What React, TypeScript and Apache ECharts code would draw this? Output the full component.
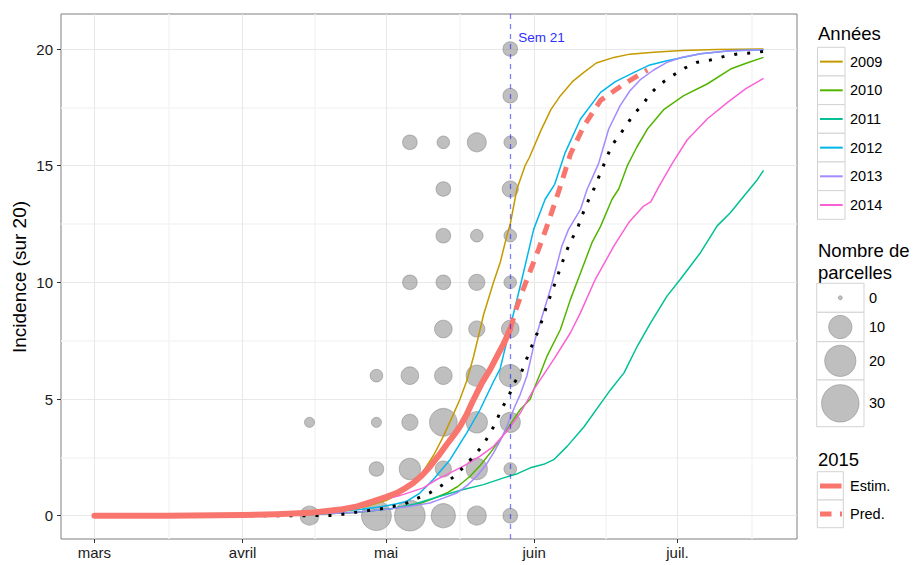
import React, { useEffect, useRef } from 'react';
import * as echarts from 'echarts';

// x values are days counted from 1 March (mars = 0)
const monthStarts = [0, 31, 61, 92, 122];
const monthLabels = ['mars', 'avril', 'mai', 'juin', 'juil.'];
const monthMids = [15.5, 46, 76.5, 107, 137.5];
const yMajor = [0, 5, 10, 15, 20];
const yMinor = [2.5, 7.5, 12.5, 17.5];

const yearNames = ['2009', '2010', '2011', '2012', '2013', '2014'];
const yearColors = ['#C49A00', '#53B400', '#00C094', '#00B6EB', '#A58AFF', '#FB61D7'];

const inc2009: [number, number][] = [[0,0],[31,0.02],[45,0.1],[52,0.2],[57,0.4],[61,0.65],[64,0.95],[66.5,1.3],[68.5,1.8],[71,2.6],[73,3.4],[75,4.3],[76.5,5.0],[78,5.84],[79.3,6.8],[80.6,7.9],[81.4,8.6],[83.5,10.0],[84.9,10.85],[86.3,12.0],[87,12.5],[88.4,14.0],[90.1,15.0],[91,15.35],[93.4,16.5],[95.5,17.4],[97.5,18.0],[100,18.6],[102.4,19.0],[105,19.4],[108.7,19.64],[112,19.78],[117,19.86],[123,19.94],[130,19.98],[140,20]];
const inc2010: [number, number][] = [[0,0],[31,0.01],[45,0.05],[55,0.15],[62,0.3],[67.4,0.47],[70.5,0.7],[73.7,0.97],[76,1.25],[78.6,1.69],[80.7,2.15],[82.8,2.69],[84.5,3.15],[86.3,3.69],[89.1,4.55],[91.2,5.0],[91.9,5.4],[93.3,6.1],[94.7,6.84],[97.5,7.98],[99.6,9.27],[101.7,10.4],[104.1,11.7],[105.9,12.4],[108.3,13.56],[109.7,14.0],[111.5,15.0],[113.5,15.8],[115.7,16.57],[119.1,17.4],[123.3,18.0],[128.2,18.5],[133.1,19.14],[136.5,19.4],[140,19.64]];
const inc2011: [number, number][] = [[0,0],[31,0.01],[45,0.05],[55,0.15],[62,0.3],[67,0.5],[72.3,0.83],[77.2,1.12],[81.4,1.33],[85.6,1.62],[88.5,1.8],[91.2,2.05],[94,2.2],[96.1,2.4],[98.9,2.97],[102.4,3.8],[105.9,4.8],[108,5.4],[110.8,6.12],[113.6,7.27],[116.4,8.27],[119.8,9.41],[122.6,10.13],[126.8,11.27],[130.3,12.42],[133.1,12.99],[135.9,13.7],[138.7,14.4],[140,14.8]];
const inc2012: [number, number][] = [[0,0],[31,0.02],[45,0.08],[55,0.25],[60,0.38],[63,0.5],[65.3,0.61],[68.1,0.97],[70.9,1.55],[74.4,2.4],[77.9,3.55],[80.7,4.55],[83.5,5.75],[84.9,6.3],[86.7,7.84],[89.4,10.1],[91.9,12.27],[94.3,13.56],[96.3,14.2],[98.5,15.56],[101.7,17.0],[105.9,18.14],[109,18.6],[112.9,19.0],[116,19.3],[119.8,19.5],[126.8,19.8],[133,19.92],[140,19.97]];
const inc2013: [number, number][] = [[0,0],[31,0.01],[45,0.05],[55,0.15],[62,0.3],[66,0.4],[70.2,0.54],[73,0.75],[75.8,0.97],[78,1.3],[80,1.69],[82,2.2],[83.5,2.69],[85,3.25],[86.3,3.83],[88,4.7],[89.1,5.2],[90.5,6.0],[92.2,7.55],[95.4,9.7],[97.8,11.56],[99.2,12.27],[101.7,13.13],[103.1,14.0],[104,14.4],[105.5,15.1],[107.6,16.57],[110,17.57],[112,18.2],[114.3,18.7],[117,19.1],[119.8,19.43],[123,19.65],[126.8,19.8],[133,19.92],[140,19.97]];
const inc2014: [number, number][] = [[0,0],[31,0.03],[40,0.1],[45,0.15],[52,0.3],[58,0.55],[63.9,0.86],[68.8,1.19],[71.6,1.55],[73.7,1.76],[77.2,2.12],[80.7,2.55],[83.5,2.97],[86.3,3.62],[89.1,4.4],[91.9,5.4],[96.1,6.7],[99.6,7.84],[101.7,8.7],[104.8,10.13],[108.7,11.56],[111.8,12.56],[114.9,13.27],[116.4,13.45],[118.1,14.1],[120.9,15.1],[124,16.1],[128.2,17.0],[132.4,17.7],[136.3,18.3],[140,18.74]];
const moyenne: [number, number][] = [[0,0],[31,0],[45,0],[50.3,0.01],[53.1,0.09],[56.1,0.19],[59.1,0.26],[61.8,0.37],[64.9,0.5],[67.4,0.73],[70.1,0.97],[72.7,1.3],[75,1.64],[77.2,2.07],[79.2,2.52],[81.1,2.97],[82.7,3.5],[84,4.0],[85.1,4.55],[86.7,5.12],[87.7,5.65],[89.3,6.13],[90.4,6.7],[91.5,7.27],[92.6,7.8],[93.6,8.34],[94.5,8.91],[95.5,9.48],[96.6,10.09],[97.5,10.63],[98.5,11.2],[99.6,11.75],[101,12.27],[102,12.85],[103.1,13.4],[104.5,14.0],[106.7,15.1],[108.2,15.85],[111,16.64],[112.7,17.17],[114.6,17.6],[116.4,18.1],[118.4,18.5],[120.9,18.85],[123.5,19.18],[126.1,19.43],[128.9,19.53],[131.9,19.69],[134.9,19.8],[137.8,19.83],[140,19.9]];
const estim2015: [number, number][] = [[0,0],[15,0],[31,0.03],[38,0.06],[45,0.12],[51.4,0.26],[55,0.4],[58.3,0.61],[61,0.8],[63.2,0.97],[65,1.17],[66.7,1.4],[68.5,1.72],[70.2,2.1],[72,2.57],[73.7,3.05],[75.2,3.45],[76.5,3.83],[77.8,4.3],[79,4.84],[80,5.25],[81.1,5.7],[82.8,6.27],[84.6,6.98],[85.7,7.4],[87,8.0]];
const pred2015: [number, number][] = [[87,8.0],[88.3,8.9],[89.7,9.7],[91.3,10.55],[92.9,11.4],[94.5,12.3],[96,13.2],[97.3,14.0],[99.6,15.5],[102.4,16.7],[105.9,17.8],[110.8,18.5],[115.7,19.1]];

// [day, incidence, nombre de parcelles]
const parcelles: [number, number, number][] = [
  [45,0,6],[45,4,1],
  [59,0,18],[59,2,3],[59,4,1],[59,6,2],
  [66,0,19],[66,2,8],[66,4,4],[66,6,5],[66,10,3],[66,16,3],
  [73,0,11],[73,2,4],[73,4,15],[73,6,5],[73,8,5],[73,10,3],[73,12,3],[73,14,3],[73,16,2],
  [80,0,6],[80,2,8],[80,4,8],[80,6,8],[80,8,4],[80,10,4],[80,12,2],[80,16,6],
  [87,0,3],[87,2,2],[87,4,7],[87,6,9],[87,8,5],[87,10,2],[87,12,2],[87,14,4],[87,16,2],[87,18,3],[87,20,3],
];
const sizeBreaks = [0, 10, 20, 30];
const semDay = 87;
const semLabel = 'Sem 21';

const FONT = '"Liberation Sans", Arial, Helvetica, sans-serif';
const sizeOf = (n: number) => 4 + 6.1 * Math.sqrt(n);
const POINT_FILL = 'rgba(127,127,127,0.5)';
const RED = '#F8766D';

function buildGraphics() {
  const g: any[] = [];
  const txt = (x: number, y: number, text: string, size: number, extra: any = {}) => ({
    type: 'text', x, y, silent: true,
    style: { text, fontSize: size, fontFamily: FONT, fill: '#000', textAlign: 'left', textVerticalAlign: 'middle' },
    ...extra,
  });
  g.push({
    type: 'text', x: 19, y: 277, rotation: Math.PI / 2, silent: true,
    style: { text: 'Incidence (sur 20)', fontSize: 19, fontFamily: FONT, fill: '#000', textAlign: 'center', textVerticalAlign: 'middle' },
  });
  // Années
  g.push(txt(818, 33, 'Années', 18.5));
  yearNames.forEach((name, i) => {
    const top = 47.3 + i * 28.67;
    const cy = top + 14.33;
    g.push({ type: 'rect', silent: true, shape: { x: 817.5, y: top, width: 27.5, height: 28.67 }, style: { fill: '#fff', stroke: '#d3d3d3', lineWidth: 1 } });
    g.push({ type: 'line', silent: true, shape: { x1: 820, y1: cy, x2: 842.7, y2: cy }, style: { stroke: yearColors[i], lineWidth: 2 } });
    g.push(txt(850, cy, name, 14.5));
  });
  // Nombre de parcelles
  g.push(txt(818, 250, 'Nombre de', 18.5));
  g.push(txt(818, 272, 'parcelles', 18.5));
  const keyH = [29, 29.4, 38.3, 46.7];
  let top = 283.3;
  sizeBreaks.forEach((b, i) => {
    const h = keyH[i];
    const cy = top + h / 2;
    g.push({ type: 'rect', silent: true, shape: { x: 816.7, y: top, width: 47.3, height: h }, style: { fill: '#fff', stroke: '#d3d3d3', lineWidth: 1 } });
    g.push({ type: 'circle', silent: true, shape: { cx: 840.3, cy, r: sizeOf(b) / 2 }, style: { fill: POINT_FILL, stroke: POINT_FILL, lineWidth: 1 } });
    g.push(txt(869, cy, String(b), 14.5));
    top += h;
  });
  // 2015
  g.push(txt(818, 459, '2015', 18.5));
  g.push({ type: 'rect', silent: true, shape: { x: 817.3, y: 471.7, width: 26, height: 28.3 }, style: { fill: '#fff', stroke: '#d3d3d3', lineWidth: 1 } });
  g.push({ type: 'rect', silent: true, shape: { x: 817.3, y: 500, width: 26, height: 27.7 }, style: { fill: '#fff', stroke: '#d3d3d3', lineWidth: 1 } });
  g.push({ type: 'line', silent: true, shape: { x1: 820, y1: 486, x2: 841.5, y2: 486 }, style: { stroke: RED, lineWidth: 5 } });
  g.push({ type: 'line', silent: true, shape: { x1: 820, y1: 514, x2: 842, y2: 514 }, style: { stroke: RED, lineWidth: 5, lineDash: [11.5, 8.5] } });
  g.push(txt(850, 486, 'Estim.', 14.5));
  g.push(txt(850, 514, 'Pred.', 14.5));
  return g;
}

export default function App() {
  const ref = useRef<HTMLDivElement>(null);
  useEffect(() => {
    if (!ref.current) return;
    const chart = echarts.init(ref.current, undefined, { renderer: 'svg' });
    const gridLines: any[] = [
      ...monthMids.map((v) => ({ xAxis: v, lineStyle: { color: '#f5f5f5', width: 1.5, type: 'solid' } })),
      ...yMinor.map((v) => ({ yAxis: v, lineStyle: { color: '#f5f5f5', width: 1.5, type: 'solid' } })),
      ...monthStarts.map((v) => ({ xAxis: v, lineStyle: { color: '#e8e8e8', width: 1, type: 'solid' } })),
      ...yMajor.map((v) => ({ yAxis: v, lineStyle: { color: '#e8e8e8', width: 1, type: 'solid' } })),
    ];
    const yearSeries = yearNames.map((name, i) => ({
      name, type: 'line', data: [inc2009, inc2010, inc2011, inc2012, inc2013, inc2014][i],
      showSymbol: false, symbol: 'none', silent: true, z: 3,
      lineStyle: { color: yearColors[i], width: 1.5 },
    }));
    chart.setOption({
      animation: false,
      textStyle: { fontFamily: FONT },
      grid: { left: 61, top: 14, width: 736, height: 525, show: true, borderColor: '#7f7f7f', borderWidth: 1, backgroundColor: '#fff' },
      xAxis: {
        type: 'value', min: -7, max: 147,
        axisLine: { show: false, onZero: false },
        splitLine: { show: false },
        axisTick: { show: true, customValues: monthStarts, length: 4, lineStyle: { color: '#333', width: 1 } },
        axisLabel: {
          customValues: monthStarts, fontSize: 15, color: '#1a1a1a', margin: 6, fontFamily: FONT,
          formatter: (v: number) => monthLabels[monthStarts.indexOf(v)] ?? '',
        },
      },
      yAxis: {
        type: 'value', min: -1, max: 21.5,
        axisLine: { show: false, onZero: false },
        splitLine: { show: false },
        axisTick: { show: true, customValues: yMajor, length: 4, lineStyle: { color: '#333', width: 1 } },
        axisLabel: { customValues: yMajor, fontSize: 15, color: '#1a1a1a', margin: 8, fontFamily: FONT },
      },
      graphic: buildGraphics(),
      series: [
        {
          type: 'line', data: [], silent: true, z: 1,
          markLine: { silent: true, z: 1, symbol: ['none', 'none'], label: { show: false }, animation: false, data: gridLines },
        },
        {
          type: 'scatter', data: parcelles, silent: true, z: 2,
          symbolSize: (v: number[]) => sizeOf(v[2]),
          itemStyle: { color: POINT_FILL, borderColor: POINT_FILL, borderWidth: 1, opacity: 1 },
        },
        ...yearSeries,
        {
          type: 'line', data: moyenne, showSymbol: false, symbol: 'none', silent: true, z: 4,
          lineStyle: { color: '#000', width: 3, type: [3, 10], cap: 'butt' },
        },
        {
          type: 'line', data: estim2015, showSymbol: false, symbol: 'none', silent: true, z: 5,
          lineStyle: { color: RED, width: 6, cap: 'round', join: 'round' },
        },
        {
          type: 'line', data: pred2015, showSymbol: false, symbol: 'none', silent: true, z: 5,
          lineStyle: { color: RED, width: 5, type: [11.5, 8.5], cap: 'butt' },
        },
        {
          type: 'scatter', data: [[semDay, 20.5]], symbolSize: 0, silent: true, z: 6,
          itemStyle: { opacity: 1, color: '#2f2fff' },
          label: { show: true, opacity: 1, formatter: semLabel, position: 'right', distance: 8, color: '#2f2fff', fontSize: 13.5, fontFamily: FONT },
          markLine: {
            silent: true, z: 6, symbol: ['none', 'none'], label: { show: false },
            lineStyle: { color: 'rgba(0,0,255,0.5)', width: 1.3, type: [5, 5] },
            data: [{ xAxis: semDay }],
          },
        },
      ],
    });
    return () => chart.dispose();
  }, []);
  return <div ref={ref} style={{ position: 'fixed', left: 0, top: 0, width: 918, height: 565, background: '#fff' }} />;
}
